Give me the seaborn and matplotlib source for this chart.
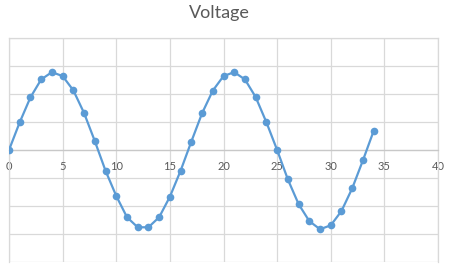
import matplotlib
matplotlib.use('Agg')
import matplotlib.pyplot as plt
import seaborn as sns
import pandas as pd

# Data
x_vals = list(range(35))
voltage = [0.00, 0.99, 1.88, 2.52, 2.78, 2.64, 2.13, 1.32, 0.32,
           -0.74, -1.64, -2.40, -2.76, -2.76, -2.40, -1.67, -0.74,
           0.30, 1.31, 2.12, 2.64, 2.78, 2.52, 1.89, 0.99, 0.00,
           -1.05, -1.93, -2.54, -2.83, -2.69, -2.18, -1.37, -0.37, 0.68]
x_ticks = [0, 5, 10, 15, 20, 25, 30, 35, 40]
y_grid = [-4, -3, -2, -1, 0, 1, 2, 3, 4]
title = "Voltage"

df = pd.DataFrame({"x": x_vals, "Voltage": voltage})

sns.set_theme(style="white")
plt.rcParams['font.family'] = ['Lato', 'DejaVu Sans']

fig = plt.figure(figsize=(4.5, 2.68), dpi=100)
ax = fig.add_axes([9/450, 6/268, 429/450, 224/268])

grid_c = '#D9D9D9'
ax.set_xlim(0, 40)
ax.set_ylim(-4, 4)
ax.set_xticks(x_ticks)
ax.set_yticks(y_grid)
ax.set_yticklabels([])
ax.grid(True, color=grid_c, linewidth=0.9)
ax.set_axisbelow(True)

sns.lineplot(data=df, x="x", y="Voltage", ax=ax, color='#5B9BD5',
             linewidth=1.6, marker='o', markersize=5.5,
             markeredgewidth=0, markeredgecolor='#5B9BD5', zorder=3)

for s in ['left', 'right', 'top']:
    ax.spines[s].set_color(grid_c)
    ax.spines[s].set_linewidth(0.9)
ax.spines['bottom'].set_position(('data', 0))
ax.spines['bottom'].set_color('#C8C8C8')
ax.spines['bottom'].set_linewidth(0.9)

ax.tick_params(axis='x', length=0, pad=8, labelsize=8, labelcolor='#595959')
ax.tick_params(axis='y', length=0)
ax.set_xlabel('')
ax.set_ylabel('')

fig.text(219/450, 1 - 13/268, title, ha='center', va='center',
         fontsize=13, color='#595959')

fig.savefig('out.png', dpi=100)
